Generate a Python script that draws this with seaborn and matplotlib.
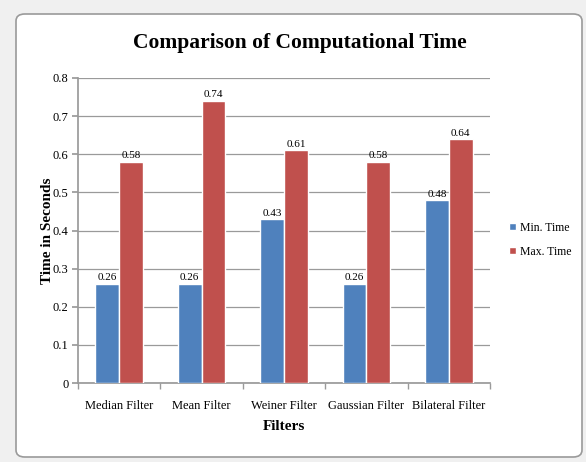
import matplotlib
matplotlib.use("Agg")
import matplotlib.pyplot as plt
import seaborn as sns
import pandas as pd
from matplotlib.patches import FancyBboxPatch

filters = ["Median Filter", "Mean Filter", "Weiner Filter", "Gaussian Filter", "Bilateral Filter"]
min_time = [0.26, 0.26, 0.43, 0.26, 0.48]
max_time = [0.58, 0.74, 0.61, 0.58, 0.64]
series = ["Min. Time", "Max. Time"]
colors = ["#4F81BD", "#C0504D"]

df = pd.DataFrame({
    "Filter": filters * 2,
    "Time": min_time + max_time,
    "Series": [series[0]] * len(filters) + [series[1]] * len(filters),
})

sns.set_theme(style="white")
plt.rcParams["font.family"] = ["Liberation Serif", "DejaVu Serif"]
plt.rcParams["text.color"] = "black"
plt.rcParams["axes.labelcolor"] = "black"
plt.rcParams["xtick.color"] = "black"
plt.rcParams["ytick.color"] = "black"

fig = plt.figure(figsize=(5.86, 4.62), dpi=100)
fig.patch.set_facecolor("#F0F0F0")
# chart frame
frame = FancyBboxPatch((16 / 586, 5 / 462), 566 / 586, 443 / 462,
                       boxstyle="round,pad=0,rounding_size=0.015",
                       transform=fig.transFigure, facecolor="white",
                       edgecolor="#9A9A9A", linewidth=1.2, zorder=-10)
fig.patches.append(frame)

ax = fig.add_axes([78 / 586, 1 - 383 / 462, 412 / 586, 305 / 462])
ax.set_facecolor("none")
sns.barplot(data=df, x="Filter", y="Time", hue="Series", palette=colors,
            width=0.58, gap=0, ax=ax, saturation=1, errorbar=None, zorder=3)

ax.set_ylim(0, 0.8)
ax.set_yticks([i / 10 for i in range(9)])
ax.set_yticklabels(["0"] + [f"{i/10:.1f}" for i in range(1, 9)], fontsize=9)
ax.set_xlim(-0.5, 4.5)
ax.yaxis.grid(True, color="#9A9A9A", linewidth=0.9, zorder=0)
ax.set_axisbelow(True)
for s in ["top", "right"]:
    ax.spines[s].set_visible(False)
ax.spines["left"].set_color("#9A9A9A")
ax.spines["bottom"].set_color("#9A9A9A")
ax.tick_params(axis="y", left=True, length=4, color="#9A9A9A", pad=3)
ax.tick_params(axis="x", bottom=False, labelsize=9, pad=6)
ax.set_xticks(range(5))
ax.set_xticklabels(filters, fontsize=9)
ax.set_xticks([i - 0.5 for i in range(6)], minor=True)
ax.tick_params(axis="x", which="minor", bottom=True, length=4, color="#9A9A9A")

for cont in ax.containers:
    ax.bar_label(cont, labels=[f"{v:.2f}" for v in cont.datavalues], fontsize=8, padding=1)

ax.set_xlabel("Filters", fontsize=11, fontweight="bold", labelpad=6)
ax.set_ylabel("Time in Seconds", fontsize=11, fontweight="bold", labelpad=-1)
fig.text(300 / 586, 1 - 43 / 462, "Comparison of Computational Time", ha="center", va="center",
         fontsize=15.5, fontweight="bold")

leg = ax.legend(loc="center left", bbox_to_anchor=(1.035, 0.47), frameon=False,
                fontsize=8.5, handlelength=0.6, handleheight=0.6, handletextpad=0.3,
                labelspacing=1.0, borderaxespad=0)

fig.savefig("out.png", dpi=100, facecolor=fig.get_facecolor())
